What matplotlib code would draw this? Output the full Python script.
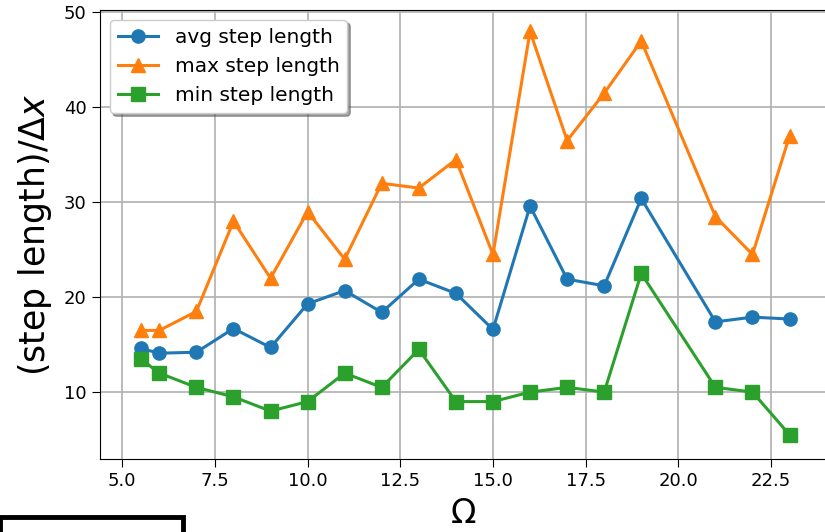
import numpy as np
import matplotlib
matplotlib.use("Agg")
import matplotlib.pyplot as plt
from matplotlib.patches import Rectangle

omega = [5.5, 6, 7, 8, 9, 10, 11, 12, 13, 14, 15, 16, 17, 18, 19, 21, 22, 23]
avg_len = [14.6, 14.1, 14.2, 16.7, 14.7, 19.3, 20.7, 18.4, 21.9, 20.4, 16.6, 29.6, 21.9, 21.2, 30.4, 17.4, 17.9, 17.7]
max_len = [16.5, 16.5, 18.5, 28, 22, 29, 24, 32, 31.5, 34.5, 24.5, 48, 36.5, 41.5, 47, 28.5, 24.5, 37]
min_len = [13.5, 12, 10.5, 9.5, 8, 9, 12, 10.5, 14.5, 9, 9, 10, 10.5, 10, 22.5, 10.5, 10, 5.5]

fig = plt.figure(figsize=(8.25, 5.32), dpi=100)
# the original picture is cropped on the right, so the axes run past the edge
ax = fig.add_axes([0.1212, 0.1372, 0.95, 0.8438])

ax.plot(omega, avg_len, "-o", color="tab:blue", lw=2.2, ms=9.5, label="avg step length")
ax.plot(omega, max_len, "-^", color="tab:orange", lw=2.2, ms=9.5, label="max step length")
ax.plot(omega, min_len, "-s", color="tab:green", lw=2.2, ms=9.5, label="min step length")

ax.set_xlim(4.4, 25.54)
ax.set_ylim(2.95, 50.25)
ax.set_xticks([5.0, 7.5, 10.0, 12.5, 15.0, 17.5, 20.0, 22.5])
ax.set_yticks([10, 20, 30, 40, 50])
ax.tick_params(labelsize=13, length=6)
ax.grid(True, color="#b0b0b0", lw=1.2)
ax.spines["right"].set_visible(False)

ax.set_xlabel(r"$\Omega$", fontsize=24)
ax.xaxis.set_label_coords(0.463, -0.085)
ax.set_ylabel(r"(step length)/$\Delta x$", fontsize=25, labelpad=7)

leg = ax.legend(loc="upper left", fontsize=14.5, shadow=True, framealpha=1,
                borderaxespad=0.5, handlelength=2.0)

# stray box in the lower left corner
fig.add_artist(Rectangle((0.0, -0.1), 0.222, 0.128, transform=fig.transFigure,
                         fill=False, edgecolor="black", lw=3.5, clip_on=False))

fig.savefig("out.png", dpi=100)
